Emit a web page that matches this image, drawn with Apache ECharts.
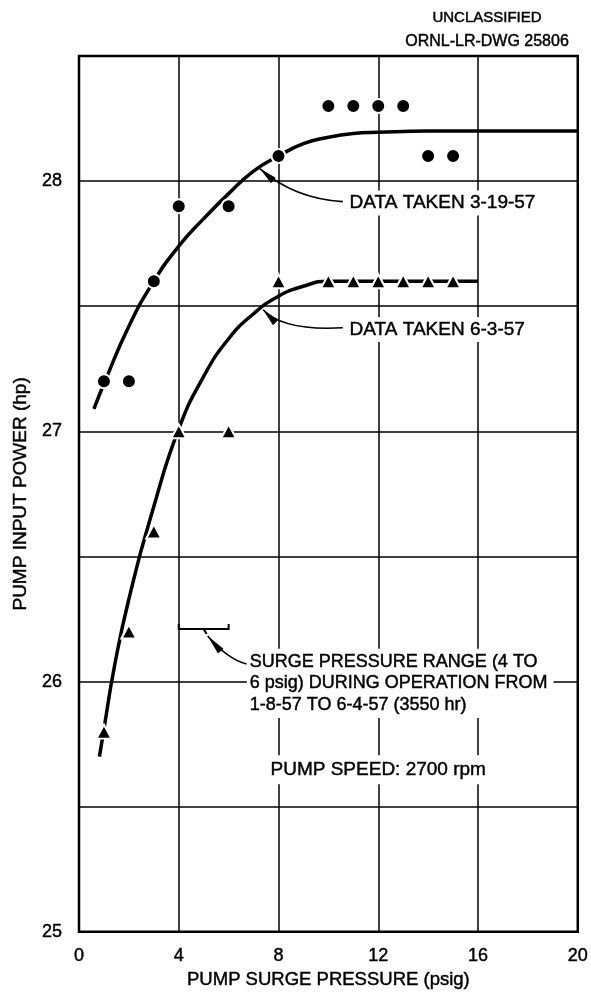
<!DOCTYPE html>
<html>
<head>
<meta charset="utf-8">
<title>Pump input power vs surge pressure</title>
<script src="https://cdn.jsdelivr.net/npm/echarts@6/dist/echarts.min.js"></script>
<style>
  html, body { margin: 0; padding: 0; background: #fff; }
  #chart { width: 591px; height: 995px; }
</style>
</head>
<body>
<div id="chart"></div>
<script>
// Measured points, run of 3-19-57 (circles)
const dotsX319 = [1, 2, 3, 4, 6, 8, 10, 11, 12, 13, 14, 15];
const dotsY319 = [27.2, 27.2, 27.6, 27.9, 27.9, 28.1, 28.3, 28.3, 28.3, 28.3, 28.1, 28.1];

// Measured points, run of 6-3-57 (triangles)
const triX63 = [1, 2, 3, 4, 6, 8, 10, 11, 12, 13, 14, 15];
const triY63 = [25.8, 26.2, 26.6, 27.0, 27.0, 27.6, 27.6, 27.6, 27.6, 27.6, 27.6, 27.6];

// Faired curve through the 3-19-57 points
const fitX319 = [0.6, 1, 2, 3, 4, 5, 6, 7, 8, 9, 10, 11, 12, 14, 20];
const fitY319 = [27.09, 27.19, 27.42, 27.6, 27.74, 27.85, 27.95, 28.04, 28.1, 28.15, 28.175, 28.19, 28.195, 28.2, 28.2];

// Faired curve through the 6-3-57 points
const fitX63 = [0.82, 1, 1.42, 2, 3, 4, 5, 6, 7, 8, 9, 10, 16];
const fitY63 = [25.7, 25.81, 26.06, 26.33, 26.7, 27.01, 27.22, 27.37, 27.47, 27.54, 27.58, 27.6, 27.6];

// Axis tick labels
const xTickLabels = ['0', '4', '8', '12', '16', '20'];
const yTickLabels = ['25', '26', '27', '28'];

const FONT = '"Liberation Sans", Arial, sans-serif';
const INK = 0.45; // extra outline on lettering to give a pen-drawn weight

const zip = (xs, ys) => xs.map((x, i) => [x, ys[i]]);

const chart = echarts.init(document.getElementById('chart'), null, { renderer: 'canvas' });

chart.setOption({
  backgroundColor: '#fff',
  animation: false,
  grid: {
    left: 79, right: 12, top: 56, bottom: 58,
    show: true, borderColor: '#000', borderWidth: 2.5, backgroundColor: 'transparent'
  },
  xAxis: {
    type: 'value', min: 0, max: 20, interval: 4,
    name: 'PUMP SURGE PRESSURE (psig)',
    nameLocation: 'middle', nameGap: 39,
    nameTextStyle: { color: '#000', fontSize: 18.5, fontFamily: FONT, textBorderColor: '#000', textBorderWidth: INK },
    axisLine: { show: false },
    axisTick: { show: false },
    axisLabel: {
      color: '#000', fontSize: 18, fontFamily: FONT, margin: 15,
      textBorderColor: '#000', textBorderWidth: INK,
      formatter: v => xTickLabels.includes(String(v)) ? String(v) : ''
    },
    splitLine: { show: true, lineStyle: { color: '#000', width: 1.5 } }
  },
  yAxis: {
    type: 'value', min: 25, max: 28.5, interval: 0.5,
    name: 'PUMP INPUT POWER (hp)',
    nameLocation: 'middle', nameGap: 46, nameRotate: 90,
    nameTextStyle: { color: '#000', fontSize: 19, fontFamily: FONT, textBorderColor: '#000', textBorderWidth: INK },
    axisLine: { show: false },
    axisTick: { show: false },
    axisLabel: {
      color: '#000', fontSize: 18, fontFamily: FONT, margin: 17,
      textBorderColor: '#000', textBorderWidth: INK,
      formatter: v => yTickLabels.includes(String(v)) ? String(v) : ''
    },
    splitLine: { show: true, lineStyle: { color: '#000', width: 1.5 } }
  },
  series: [
    {
      name: 'fit 3-19-57', type: 'line', data: zip(fitX319, fitY319),
      smooth: 0.5, showSymbol: false, symbol: 'none',
      lineStyle: { color: '#000', width: 3.5 }, z: 3
    },
    {
      name: 'fit 6-3-57', type: 'line', data: zip(fitX63, fitY63),
      smooth: 0.5, showSymbol: false, symbol: 'none',
      lineStyle: { color: '#000', width: 3.5 }, z: 3
    },
    {
      name: 'DATA TAKEN 3-19-57', type: 'scatter', data: zip(dotsX319, dotsY319),
      symbol: 'circle', symbolSize: 14,
      itemStyle: { color: '#000', borderColor: '#fff', borderWidth: 2, opacity: 1 }, z: 5
    },
    {
      name: 'DATA TAKEN 6-3-57', type: 'scatter', data: zip(triX63, triY63),
      symbol: 'triangle', symbolSize: [15, 14],
      itemStyle: { color: '#000', borderColor: '#fff', borderWidth: 2, opacity: 1 }, z: 5
    }
  ]
});

// Callouts, anchored in data units (x in psig, y in hp)
const callouts = [
  { text: 'DATA TAKEN 3-19-57', tip: [7.25, 28.05], ctrl: [8.62, 27.93], end: [10.58, 27.918], at: [10.85, 27.913] },
  { text: 'DATA TAKEN 6-3-57', tip: [7.38, 27.486], ctrl: [8.22, 27.40], end: [10.58, 27.414], at: [10.85, 27.407] }
];
const surgeRange = { from: 4, to: 6, level: 26.21 };
const surgeNote = {
  text: 'SURGE PRESSURE RANGE (4 TO\n6 psig) DURING OPERATION FROM\n1-8-57 TO 6-4-57 (3550 hr)',
  at: [6.85, 26.079], end: [6.72, 26.07], ctrl: [5.95, 26.09]
};
const speedNote = { text: 'PUMP SPEED: 2700 rpm', at: [7.68, 25.648] };

const toPx = p => chart.convertToPixel({ gridIndex: 0 }, p);

function arrowHead(tip, toward, len, half) {
  const dx = toward[0] - tip[0], dy = toward[1] - tip[1];
  const d = Math.hypot(dx, dy) || 1;
  const ux = dx / d, uy = dy / d;
  const bx = tip[0] + ux * len, by = tip[1] + uy * len;
  return {
    type: 'polygon', z: 101,
    shape: { points: [tip, [bx - uy * half, by + ux * half], [bx + uy * half, by - ux * half]] },
    style: { fill: '#000' }
  };
}

function label(text, x, y, size, extra) {
  return {
    type: 'text', z: 100, x, y,
    style: Object.assign({
      text, fill: '#000', font: size + 'px ' + FONT,
      stroke: '#000', lineWidth: INK,
      textAlign: 'left', textVerticalAlign: 'middle'
    }, extra || {})
  };
}

const gfx = [];

callouts.forEach(c => {
  const t = toPx(c.tip), k = toPx(c.ctrl), e = toPx(c.end), a = toPx(c.at);
  gfx.push(label(c.text, a[0] - 3, a[1], 19, { backgroundColor: '#fff', padding: [3, 3] }));
  gfx.push({
    type: 'bezierCurve', z: 101,
    shape: { x1: t[0], y1: t[1], x2: e[0], y2: e[1], cpx1: k[0], cpy1: k[1] },
    style: { stroke: '#000', lineWidth: 1.6, fill: null }
  });
  gfx.push(arrowHead(t, k, 18, 3.6));
});

// Brace marking the 4-6 psig operating range
{
  const l = toPx([surgeRange.from, surgeRange.level]);
  const r = toPx([surgeRange.to, surgeRange.level]);
  const m = toPx([(surgeRange.from + surgeRange.to) / 2, surgeRange.level]);
  gfx.push({
    type: 'polyline', z: 101,
    shape: { points: [[l[0], l[1] - 5], [l[0], l[1]], [r[0], r[1]], [r[0], r[1] - 5]] },
    style: { stroke: '#000', lineWidth: 2, fill: null }
  });
  gfx.push({
    type: 'line', z: 101,
    shape: { x1: m[0], y1: m[1], x2: m[0] + 3, y2: m[1] + 5 },
    style: { stroke: '#000', lineWidth: 2 }
  });
  const tip = [m[0] + 4, m[1] + 7];
  const k = toPx(surgeNote.ctrl), e = toPx(surgeNote.end);
  gfx.push({
    type: 'bezierCurve', z: 101,
    shape: { x1: tip[0], y1: tip[1], x2: e[0], y2: e[1], cpx1: k[0], cpy1: k[1] },
    style: { stroke: '#000', lineWidth: 1.6, fill: null }
  });
  gfx.push(arrowHead(tip, k, 20, 3.6));
}

{
  const a = toPx(surgeNote.at);
  gfx.push(label(surgeNote.text, a[0] - 3, a[1] - 13, 18, {
    lineHeight: 21.7, textVerticalAlign: 'top',
    backgroundColor: '#fff', padding: [2, 6, 2, 3]
  }));
}

{
  const a = toPx(speedNote.at);
  gfx.push(label(speedNote.text, a[0] - 3, a[1], 19, { backgroundColor: '#fff', padding: [5, 3] }));
}

// Drawing identification in the upper right corner
gfx.push(label('UNCLASSIFIED', 487, 18, 15, { textAlign: 'center' }));
gfx.push(label('ORNL-LR-DWG 25806', 487, 42, 16, { textAlign: 'center' }));

chart.setOption({ graphic: gfx });
</script>
</body>
</html>
